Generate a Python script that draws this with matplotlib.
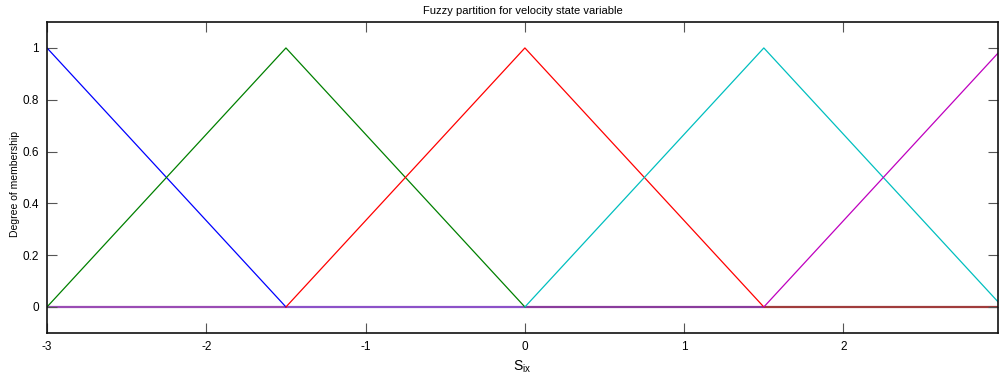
import numpy as np
import matplotlib
matplotlib.use("Agg")
import matplotlib.pyplot as plt

plt.rcParams['font.family'] = ['Liberation Sans', 'DejaVu Sans']
plt.rcParams['mathtext.fontset'] = 'custom'
plt.rcParams['mathtext.rm'] = 'Liberation Sans'
plt.rcParams['mathtext.it'] = 'Liberation Sans'

# Membership function definitions (left foot, peak, right foot)
centers = [-3.0, -1.5, 0.0, 1.5, 3.0]
half_width = 1.5
colors = ['#0000ff', '#008000', '#ff0000', '#00bfbf', '#bf00bf']
x_ticks = [-3, -2, -1, 0, 1, 2]
y_ticks = [0, 0.2, 0.4, 0.6, 0.8, 1]
# zero-line segments (start, end) and their blended colours
zero_segments = [(-3.0, -1.5), (-1.5, 0.0), (0.0, 1.5), (1.5, 3.0)]
zero_colors = ['#9a4cb4', '#8c52c8', '#8a3c9c', '#a03c3c']

fig = plt.figure(figsize=(10, 3.8), dpi=100)
ax = fig.add_axes([0.047, 0.124, 0.951, 0.818])

for (a, b), c in zip(zero_segments, zero_colors):
    ax.plot([a, b], [0, 0], color=c, lw=1.6, solid_capstyle='butt', zorder=1)

for c, col in zip(centers, colors):
    xs = [c - half_width, c, c + half_width]
    ys = [0, 1, 0]
    ax.plot(xs, ys, color=col, lw=0.9, zorder=2)

ax.set_xlim(-3, 2.97)
ax.set_ylim(-0.1, 1.1)
ax.set_xticks(x_ticks)
ax.set_xticklabels([str(t) for t in x_ticks])
ax.set_yticks(y_ticks)
ax.set_yticklabels(['0', '0.2', '0.4', '0.6', '0.8', '1'])
ax.tick_params(direction='in', length=7, width=0.8, color='#555555',
               top=True, right=True, labelsize=8.5, pad=6)
for s in ax.spines.values():
    s.set_linewidth(1.2)
    s.set_color('#111111')

ax.set_title('Fuzzy partition for velocity state variable', fontsize=8, pad=6)
ax.set_ylabel('Degree of membership', fontsize=7.5)
ax.yaxis.set_label_coords(-0.028, 0.48)
ax.set_xlabel(r'S$_{\mathrm{ix}}$', fontsize=10, labelpad=4)

fig.savefig('out.png', dpi=100)
